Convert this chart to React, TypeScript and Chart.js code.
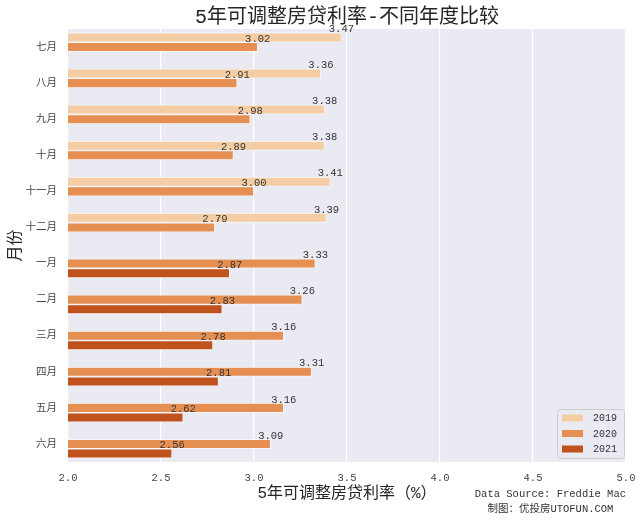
import React, { useEffect, useRef } from "react";
import { Chart, registerables } from "chart.js";

Chart.register(...registerables);

const months = ["七月", "八月", "九月", "十月", "十一月", "十二月", "一月", "二月", "三月", "四月", "五月", "六月"];
const years = ["2019", "2020", "2021"];
const rates2019 = [3.47, 3.36, 3.38, 3.38, 3.41, 3.39, null, null, null, null, null, null];
const rates2020 = [3.02, 2.91, 2.98, 2.89, 3.0, 2.79, 3.33, 3.26, 3.16, 3.31, 3.16, 3.09];
const rates2021 = [null, null, null, null, null, null, 2.87, 2.83, 2.78, 2.81, 2.62, 2.56];
const xMin = 2.0;
const xMax = 5.0;
const xStep = 0.5;

const titleText = "5年可调整房贷利率-不同年度比较";
const xTitle = "5年可调整房贷利率（%）";
const yTitle = "月份";
const footerLines = ["Data Source: Freddie Mac", "制图：优投房UTOFUN.COM"];

const colors = ["#F5CDA4", "#E68F53", "#BF521D"];
const FONT = '"Liberation Mono", "Noto Sans CJK SC", monospace';
const TEXT = "#262626";

export default function App() {
  const ref = useRef<HTMLCanvasElement | null>(null);

  useEffect(() => {
    const canvas = ref.current;
    if (!canvas) return;

    const bgPlugin = {
      id: "bgPlugin",
      beforeDraw(chart: any) {
        const { ctx, chartArea } = chart;
        ctx.save();
        ctx.fillStyle = "#EAEAF2";
        ctx.fillRect(chartArea.left, chartArea.top, chartArea.right - chartArea.left, chartArea.bottom - chartArea.top);
        ctx.restore();
      },
    };

    const labelPlugin = {
      id: "labelPlugin",
      afterDatasetsDraw(chart: any) {
        const { ctx } = chart;
        ctx.save();
        ctx.font = `10.5px ${FONT}`;
        ctx.fillStyle = "#333333";
        ctx.textAlign = "center";
        ctx.textBaseline = "alphabetic";
        chart.data.datasets.forEach((ds: any, di: number) => {
          const meta = chart.getDatasetMeta(di);
          meta.data.forEach((el: any, i: number) => {
            const v = ds.data[i];
            if (v == null) return;
            const top = el.y - el.height / 2;
            ctx.fillText(v.toFixed(2), el.x, top - 0.5);
          });
        });
        ctx.restore();
      },
      afterDraw(chart: any) {
        const { ctx, chartArea } = chart;
        ctx.save();
        // title
        ctx.font = `20px ${FONT}`;
        ctx.fillStyle = TEXT;
        ctx.textAlign = "center";
        ctx.textBaseline = "middle";
        ctx.fillText(titleText, (chartArea.left + chartArea.right) / 2, 18);

        // footer
        ctx.font = `10.5px ${FONT}`;
        const w1 = ctx.measureText(footerLines[0]).width;
        const cx = chartArea.right - w1 / 2;
        ctx.fillStyle = "#333333";
        ctx.fillText(footerLines[0], cx, 494);
        ctx.fillText(footerLines[1], cx, 509);

        // legend
        const lx = chartArea.right - 69;
        const ly = 409;
        const lw = 67;
        const lh = 49;
        ctx.fillStyle = "rgba(234,234,242,0.8)";
        ctx.strokeStyle = "#CCCCCC";
        ctx.lineWidth = 1;
        ctx.beginPath();
        if ((ctx as any).roundRect) (ctx as any).roundRect(lx + 0.5, ly + 0.5, lw, lh, 3);
        else ctx.rect(lx + 0.5, ly + 0.5, lw, lh);
        ctx.fill();
        ctx.stroke();
        ctx.font = `10px ${FONT}`;
        ctx.textAlign = "left";
        chart.data.datasets.forEach((ds: any, di: number) => {
          const yc = ly + 9 + di * 15.5;
          ctx.fillStyle = ds.backgroundColor;
          ctx.fillRect(lx + 5, yc - 3.5, 21, 7);
          ctx.fillStyle = "#333333";
          ctx.fillText(ds.label, lx + 36, yc + 0.5);
        });
        ctx.restore();
      },
    };

    const chart = new Chart(canvas, {
      type: "bar",
      data: {
        labels: months,
        datasets: [
          { label: years[0], data: rates2019, backgroundColor: colors[0] },
          { label: years[1], data: rates2020, backgroundColor: colors[1] },
          { label: years[2], data: rates2021, backgroundColor: colors[2] },
        ].map((d) => ({
          ...d,
          borderColor: "#FFFFFF",
          borderWidth: 0.8,
          categoryPercentage: 0.8,
          barPercentage: 1.0,
        })) as any,
      },
      options: {
        indexAxis: "y",
        responsive: false,
        animation: false,
        devicePixelRatio: 1,
        layout: { padding: { top: 29, right: 14, left: 0, bottom: 0 } },
        plugins: {
          legend: { display: false },
          title: { display: false },
          tooltip: { enabled: false },
        },
        scales: {
          x: {
            type: "linear",
            min: xMin,
            max: xMax,
            grid: { color: "#FFFFFF", lineWidth: 1.2, drawTicks: false },
            border: { display: false },
            ticks: {
              stepSize: xStep,
              padding: 10,
              color: "#444444",
              font: { family: FONT, size: 10.5 },
              callback: (v: any) => Number(v).toFixed(1),
            },
            title: {
              display: true,
              text: xTitle,
              color: TEXT,
              font: { family: FONT, size: 16 },
              padding: { top: 0, bottom: 17 },
            },
            afterFit: (scale: any) => {
              scale.height = 58;
              scale.paddingLeft = 0;
              scale.paddingRight = 0;
            },
          },
          y: {
            type: "category",
            grid: { display: false, drawTicks: false },
            border: { display: false },
            ticks: {
              padding: 11,
              color: "#444444",
              font: { family: FONT, size: 10.5 },
            },
            title: {
              display: true,
              text: yTitle,
              color: TEXT,
              font: { family: FONT, size: 16 },
              padding: { top: 6, bottom: 0 },
            },
            afterFit: (scale: any) => {
              scale.width = 68;
              scale.paddingTop = 0;
              scale.paddingBottom = 0;
            },
          },
        },
      },
      plugins: [bgPlugin, labelPlugin],
    } as any);

    return () => chart.destroy();
  }, []);

  return (
    <div style={{ position: "fixed", left: 0, top: 0, width: 640, height: 520, background: "#FFFFFF" }}>
      <canvas ref={ref} width={640} height={520} style={{ width: 640, height: 520, display: "block" }} />
    </div>
  );
}
